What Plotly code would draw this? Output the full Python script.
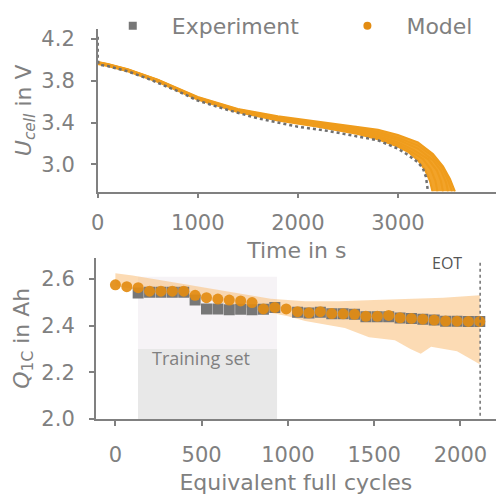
import plotly.graph_objects as go

# ---------------- top panel: discharge curves ----------------
exp_t = [0, 0, 10, 30, 100, 300, 500, 800, 1000, 1300, 1600, 2000, 2300, 2600, 2800, 3000, 3100, 3200, 3250, 3280, 3300]
exp_u = [4.22, 4.0, 3.96, 3.95, 3.94, 3.89, 3.82, 3.70, 3.61, 3.52, 3.44, 3.36, 3.32, 3.27, 3.23, 3.15, 3.09, 3.02, 2.96, 2.88, 2.74]

model_t_common = [0, 100, 300, 600, 1000, 1400, 1800, 2200, 2600, 2800, 3000]
model_curves = [
    ([3.96, 3.94, 3.89, 3.79, 3.62, 3.50, 3.42, 3.36, 3.29, 3.24, 3.17],
     [3100, 3200, 3270, 3320, 3345], [3.12, 3.04, 2.95, 2.84, 2.74]),
    ([3.965, 3.945, 3.895, 3.795, 3.625, 3.505, 3.43, 3.37, 3.30, 3.26, 3.19],
     [3100, 3250, 3330, 3375, 3395], [3.14, 3.05, 2.95, 2.84, 2.74]),
    ([3.97, 3.95, 3.90, 3.80, 3.63, 3.51, 3.435, 3.38, 3.315, 3.275, 3.21],
     [3150, 3300, 3390, 3430, 3450], [3.14, 3.05, 2.94, 2.84, 2.74]),
    ([3.975, 3.955, 3.905, 3.805, 3.635, 3.52, 3.445, 3.39, 3.33, 3.29, 3.235],
     [3200, 3350, 3430, 3480, 3500], [3.15, 3.04, 2.94, 2.83, 2.74]),
    ([3.978, 3.958, 3.908, 3.808, 3.64, 3.525, 3.452, 3.40, 3.345, 3.31, 3.255],
     [3200, 3330, 3440, 3500, 3540], [3.18, 3.09, 2.97, 2.85, 2.74]),
    ([3.98, 3.96, 3.91, 3.81, 3.645, 3.53, 3.46, 3.41, 3.36, 3.33, 3.28],
     [3200, 3350, 3450, 3520, 3570], [3.21, 3.10, 2.98, 2.86, 2.74]),
]

# ---------------- bottom panel: capacity ----------------
cycles = [0, 66, 132, 198, 264, 330, 396, 462, 528, 594, 660, 726, 792, 858, 924, 990, 1056,
          1122, 1188, 1254, 1320, 1386, 1452, 1518, 1584, 1650, 1716, 1782, 1848, 1914, 1980, 2046, 2112]
q_exp = [None, None, 2.540, 2.543, 2.543, 2.543, 2.543, 2.510, 2.472, 2.472, 2.468, 2.470, 2.468,
         2.470, 2.478, None, 2.458, 2.454, 2.458, 2.451, 2.451, 2.449, 2.438, 2.438, 2.438, 2.433,
         2.431, 2.428, 2.424, 2.419, 2.419, 2.418, 2.418]
q_model = [2.575, 2.567, 2.563, 2.548, 2.548, 2.548, 2.548, 2.530, 2.520, 2.514, 2.510, 2.506, 2.499,
           2.472, 2.478, 2.472, 2.460, 2.455, 2.460, 2.452, 2.451, 2.449, 2.440, 2.440, 2.444, 2.434,
           2.431, 2.428, 2.424, 2.420, 2.419, 2.418, 2.418]

band_up_x = [0, 100, 300, 500, 700, 900, 1100, 1300, 1500, 1700, 1900, 2112]
band_up_y = [2.625, 2.615, 2.59, 2.565, 2.54, 2.515, 2.505, 2.505, 2.51, 2.515, 2.52, 2.53]
band_lo_x = [0, 200, 400, 600, 800, 1000, 1100, 1330, 1470, 1620, 1710, 1770, 1830, 1980, 2112]
band_lo_y = [2.57, 2.545, 2.525, 2.50, 2.47, 2.44, 2.42, 2.39, 2.35, 2.337, 2.30, 2.28, 2.31, 2.29, 2.235]

eot_cycle = 2114
train_start, train_end = 131, 937
train_split, train_top = 2.3, 2.61

GRAY = "#808080"
ORANGE_LINE = "#EF9C1C"
ORANGE_MK = "#E38C12"
FONT = "DejaVu Sans"

fig = go.Figure()

# model band in top panel (polygon between outermost model curves)
lo_t = model_t_common + model_curves[0][1]
lo_u = model_curves[0][0] + model_curves[0][2]
hi_t = model_t_common + model_curves[-1][1]
hi_u = model_curves[-1][0] + model_curves[-1][2]
fig.add_trace(go.Scatter(x=lo_t + hi_t[::-1], y=lo_u + hi_u[::-1], fill="toself",
                         fillcolor="#F2A329", line=dict(width=0), mode="lines",
                         showlegend=False, xaxis="x", yaxis="y", hoverinfo="skip"))
for vals, tt, tu in model_curves:
    fig.add_trace(go.Scatter(x=model_t_common + tt, y=vals + tu, mode="lines",
                             line=dict(color=ORANGE_LINE, width=2), showlegend=False,
                             xaxis="x", yaxis="y"))
fig.add_trace(go.Scatter(x=exp_t, y=exp_u, mode="lines",
                         line=dict(color="#6f6f6f", width=2.5, dash="dot"),
                         showlegend=False, xaxis="x", yaxis="y"))

# bottom panel
fig.add_trace(go.Scatter(x=band_up_x + band_lo_x[::-1], y=band_up_y + band_lo_y[::-1],
                         fill="toself", fillcolor="rgba(250,195,130,0.6)", line=dict(width=0),
                         mode="lines", showlegend=False, xaxis="x2", yaxis="y2", hoverinfo="skip"))
fig.add_trace(go.Scatter(x=cycles, y=q_exp, mode="markers",
                         marker=dict(symbol="square", size=11, color="#777777"),
                         showlegend=False, xaxis="x2", yaxis="y2"))
fig.add_trace(go.Scatter(x=cycles, y=q_model, mode="markers",
                         marker=dict(symbol="circle", size=11, color=ORANGE_MK, opacity=0.92),
                         showlegend=False, xaxis="x2", yaxis="y2"))

# legend entries (two separate legends for exact placement)
fig.add_trace(go.Scatter(x=[None], y=[None], mode="markers", name="Experiment", legend="legend",
                         marker=dict(symbol="square", size=8, color="#777777"),
                         xaxis="x2", yaxis="y2"))
fig.add_trace(go.Scatter(x=[None], y=[None], mode="markers", name="Model", legend="legend2",
                         marker=dict(symbol="circle", size=8, color=ORANGE_MK),
                         xaxis="x2", yaxis="y2"))

axis_common = dict(showline=True, linecolor=GRAY, linewidth=1.5, ticks="outside",
                   tickcolor=GRAY, tickwidth=1.5, ticklen=5, showgrid=False, zeroline=False,
                   tickfont=dict(family=FONT, size=21, color=GRAY),
                   title_font=dict(family=FONT, size=22, color=GRAY))

W, H = 496, 497
leg_common = dict(orientation="h", yanchor="top", y=1 - 3 / H, itemwidth=68,
                  font=dict(family=FONT, size=22, color=GRAY), bgcolor="rgba(0,0,0,0)",
                  xanchor="left")
fig.update_layout(
    width=W, height=H, margin=dict(l=0, r=0, t=0, b=0),
    plot_bgcolor="white", paper_bgcolor="white",
    font=dict(family=FONT, color=GRAY),
    xaxis=dict(domain=[92 / W, 1], range=[0, 3980], tickvals=[0, 1000, 2000, 3000],
               anchor="y", ticklabelstandoff=7,
               title=dict(text="Time in s", standoff=8), **axis_common),
    yaxis=dict(domain=[(H - 195) / H, (H - 28) / H], range=[2.74, 4.293],
               tickvals=[3.0, 3.4, 3.8, 4.2], tickformat=".1f", anchor="x", ticklabelstandoff=12,
               title=dict(text="<i>U</i><sub><i>cell</i></sub> in V", standoff=4), **axis_common),
    xaxis2=dict(domain=[90 / W, 1], range=[-114, 2206], tickvals=[0, 500, 1000, 1500, 2000],
                anchor="y2", ticklabelstandoff=11,
                title=dict(text="Equivalent full cycles", standoff=9), **axis_common),
    yaxis2=dict(domain=[(H - 429) / H, (H - 263) / H], range=[2.0, 2.692],
                tickvals=[2.0, 2.2, 2.4, 2.6], tickformat=".1f", anchor="x2", ticklabelstandoff=10,
                title=dict(text="<i>Q</i><sub>1C</sub> in Ah", standoff=6), **axis_common),
    legend=dict(x=88 / W, **leg_common),
    legend2=dict(x=326 / W, **leg_common),
    shapes=[
        dict(type="rect", xref="x2", yref="y2", x0=train_start, x1=train_end,
             y0=train_split, y1=train_top, fillcolor="#F6F3F6", line=dict(width=0), layer="below"),
        dict(type="rect", xref="x2", yref="y2", x0=train_start, x1=train_end,
             y0=2.0, y1=train_split, fillcolor="#E8E8E8", line=dict(width=0), layer="below"),
        dict(type="line", xref="x2", yref="y2 domain", x0=eot_cycle, x1=eot_cycle, y0=0.02, y1=0.98,
             line=dict(color="#6f6f6f", width=1.5, dash="dot")),
    ],
    annotations=[
        dict(text="Training set", xref="x2", yref="y2", x=(train_start + train_end) / 2, y=train_split,
             xshift=-7, yshift=-9, showarrow=False, font=dict(family="Open Sans", size=18, color=GRAY)),
        dict(text="EOT", xref="x2", yref="paper", x=eot_cycle, y=(H - 263) / H, xanchor="right",
             yanchor="middle", xshift=-16, yshift=-5, showarrow=False,
             font=dict(family="Open Sans", size=16, color="#555555")),
    ],
)

fig.write_html("out.html")
